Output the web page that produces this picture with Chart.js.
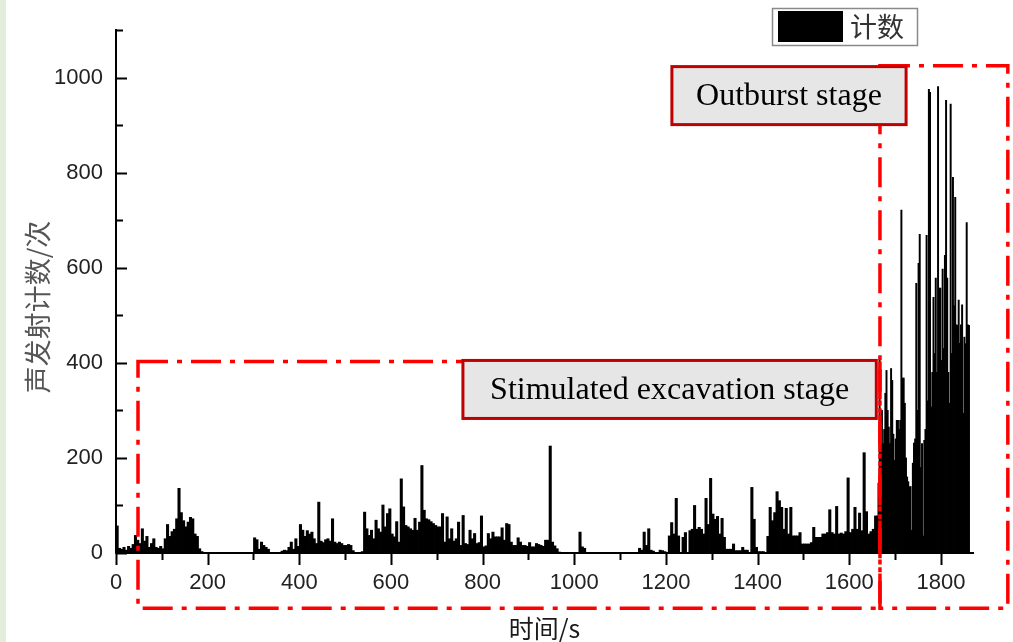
<!DOCTYPE html>
<html>
<head>
<meta charset="utf-8">
<title>声发射计数</title>
<script src="https://cdn.jsdelivr.net/npm/chart.js@4.4.1/dist/chart.umd.min.js"></script>
<style>
    html, body { margin: 0; padding: 0; background: #ffffff; }
    #chartBox { position: relative; width: 1013px; height: 642px; }
</style>
</head>
<body>
<div id="chartBox"><canvas id="canvasAE" width="1013" height="642"></canvas></div>
<script>
// ---------------------------------------------------------------- data
// acoustic emission counts, 5 s bins from 0 s to 1660 s (one row = 100 s)
var binWidthQuiet = 5;
var countsQuiet = [
    57, 10, 8, 12, 6, 14, 10, 18, 37, 27, 20, 51, 25, 35, 12, 20, 30, 12, 10, 14,
    9, 30, 60, 35, 45, 50, 72, 136, 85, 68, 55, 65, 75, 72, 40, 35, 9, 3, 0, 0,
    0, 0, 0, 0, 0, 0, 0, 0, 0, 0, 0, 0, 0, 0, 0, 0, 0, 0, 0, 0,
    32, 28, 8, 23, 16, 12, 8, 0, 0, 0, 0, 0, 4, 6, 5, 12, 23, 8, 30, 14,
    60, 48, 35, 47, 40, 44, 30, 20, 107, 25, 22, 28, 30, 25, 72, 23, 20, 23, 20, 16,
    16, 18, 16, 5, 0, 0, 0, 3, 86, 51, 37, 48, 30, 69, 51, 44, 101, 55, 83, 93,
    40, 34, 66, 23, 156, 97, 58, 55, 51, 48, 73, 48, 65, 184, 90, 72, 70, 66, 62, 58,
    55, 55, 83, 23, 76, 30, 51, 25, 30, 65, 16, 79, 20, 18, 48, 30, 41, 20, 22, 78,
    13, 15, 41, 30, 44, 34, 34, 34, 53, 27, 62, 60, 23, 16, 16, 32, 23, 16, 16, 14,
    22, 13, 13, 20, 18, 16, 14, 27, 27, 225, 23, 15, 9, 2, 0, 0, 0, 0, 0, 0,
    0, 0, 44, 13, 10, 0, 0, 0, 0, 0, 0, 0, 0, 0, 0, 0, 0, 0, 0, 0,
    0, 0, 0, 0, 0, 0, 0, 0, 10, 6, 44, 16, 51, 6, 4, 0, 0, 6, 5, 3,
    0, 36, 64, 40, 115, 36, 0, 33, 43, 0, 47, 50, 100, 50, 54, 50, 40, 115, 60, 157,
    82, 71, 77, 40, 73, 33, 8, 8, 8, 19, 5, 5, 5, 12, 6, 6, 0, 138, 71, 12,
    3, 3, 3, 0, 35, 96, 68, 85, 129, 110, 96, 50, 94, 40, 96, 36, 36, 36, 43, 19,
    19, 19, 19, 22, 54, 33, 33, 33, 40, 40, 43, 91, 43, 40, 98, 40, 42, 40, 45, 158,
    43, 50, 96, 50, 84, 47, 211, 87, 40, 45, 50, 78
];

// outburst stage, 2.5 s bins from 1660 s (one row = 25 s)
var outburstStart = 1660;
var binWidthOutburst = 2.5;
var countsOutburst = [
    78, 147, 410, 250, 300, 230, 260, 336, 384, 300,
    265, 230, 388, 363, 250, 195, 240, 279, 279, 260,
    279, 721, 368, 368, 315, 200, 160, 150, 139, 140,
    48, 189, 231, 240, 567, 300, 609, 670, 180, 230,
    36, 237, 260, 668, 320, 975, 969, 307, 380, 538,
    420, 578, 380, 981, 557, 557, 405, 597, 430, 626,
    952, 578, 380, 315, 944, 420, 790, 520, 748, 480,
    479, 532, 441, 480, 522, 294, 454, 440, 695, 480,
    479
];

var xTicks = [0, 200, 400, 600, 800, 1000, 1200, 1400, 1600, 1800];
var xMinorTicks = [100, 300, 500, 700, 900, 1100, 1300, 1500, 1700];
var yTicks = [0, 200, 400, 600, 800, 1000];
var yMinorTicks = [100, 300, 500, 700, 900, 1100];

var seriesLabel = "计数";
var xTitle = "时间/s";
var yTitle = "声发射计数/次";
var stageNames = ["Stimulated excavation stage", "Outburst stage"];

// global object
var go = {};

document.addEventListener("DOMContentLoaded", main);

//============================================================= main entry point
function main()
{
    // build the bar points from the bins (bar sits in the middle of its bin)
    var quietPoints = [];
    for (var i = 0; i < countsQuiet.length; ++ i)
        quietPoints.push({ x: i * binWidthQuiet + binWidthQuiet / 2, y: countsQuiet[i] });

    var outburstPoints = [];
    for (var j = 0; j < countsOutburst.length; ++ j)
        outburstPoints.push({ x: outburstStart + j * binWidthOutburst + binWidthOutburst / 2, y: countsOutburst[j] });

    var tickFont = { family: "'Liberation Sans', Arial, sans-serif", size: 22 };

    // plain numbers, no thousands separator
    var plainLabel = function (value) { return String(value); };

    var config =
    {
        type: "bar",
        data:
        {
            datasets:
            [
                {
                    label: seriesLabel,
                    data: quietPoints,
                    backgroundColor: "#000000",
                    borderWidth: 0,
                    grouped: false,
                    barThickness: 2.4
                },
                {
                    label: seriesLabel,
                    data: outburstPoints,
                    backgroundColor: "#000000",
                    borderWidth: 0,
                    grouped: false,
                    barThickness: 1.3
                }
            ]
        },
        options:
        {
            responsive: false,
            animation: false,
            layout: { padding: { top: 30, right: 40, left: 0, bottom: 0 } },
            plugins:
            {
                legend: { display: false },
                tooltip: { enabled: false }
            },
            scales:
            {
                x:
                {
                    type: "linear",
                    min: 0,
                    max: 1870,
                    offset: false,
                    grid: { display: false, drawTicks: false },
                    border: { display: true, color: "#000000", width: 2 },
                    ticks: { font: tickFont, color: "#222222", padding: 17, maxRotation: 0, callback: plainLabel },
                    afterBuildTicks: function (scale)
                    {
                        scale.ticks = xTicks.map(function (v) { return { value: v }; });
                    },
                    afterFit: function (scale) { scale.height = 89; }
                },
                y:
                {
                    min: 0,
                    max: 1100,
                    grid: { display: false, drawTicks: false },
                    border: { display: true, color: "#000000", width: 2 },
                    ticks: { font: tickFont, color: "#222222", padding: 13, callback: plainLabel },
                    afterBuildTicks: function (scale)
                    {
                        scale.ticks = yTicks.map(function (v) { return { value: v }; });
                    },
                    afterFit: function (scale) { scale.width = 116; }
                }
            }
        },
        plugins: [decorPlugin]
    };

    go.canvas = document.getElementById("canvasAE");
    go.chart = new Chart(go.canvas.getContext("2d"), config);
}

// background, tick marks, titles, stage frames and the legend
var decorPlugin =
{
    id: "decor",
    beforeDraw: function (chart)
    {
        var ctx = chart.ctx;
        ctx.save();
        ctx.fillStyle = "#ffffff";
        ctx.fillRect(0, 0, chart.width, chart.height);
        // pale green strip on the left edge of the figure
        ctx.fillStyle = "#e4edda";
        ctx.fillRect(0, 0, 6, chart.height);
        ctx.restore();
    },
    afterDatasetsDraw: function (chart)
    {
        drawTickMarks(chart);
        drawTitles(chart);
        drawStages(chart);
        drawLegend(chart);
    }
};

// Origin style ticks: x ticks point out, y ticks point in
function drawTickMarks(chart)
{
    var ctx = chart.ctx;
    var xs = chart.scales.x;
    var ys = chart.scales.y;
    var area = chart.chartArea;

    ctx.save();
    ctx.strokeStyle = "#000000";
    ctx.lineWidth = 2;
    ctx.beginPath();
    xTicks.forEach(function (v)
    {
        var px = Math.round(xs.getPixelForValue(v)) + 0.5;
        ctx.moveTo(px, area.bottom);
        ctx.lineTo(px, area.bottom + 12);
    });
    xMinorTicks.forEach(function (v)
    {
        var px = Math.round(xs.getPixelForValue(v)) + 0.5;
        ctx.moveTo(px, area.bottom);
        ctx.lineTo(px, area.bottom + 7);
    });
    yTicks.forEach(function (v)
    {
        var py = Math.round(ys.getPixelForValue(v)) + 0.5;
        ctx.moveTo(area.left, py);
        ctx.lineTo(area.left + 11, py);
    });
    yMinorTicks.forEach(function (v)
    {
        var py = Math.round(ys.getPixelForValue(v)) + 0.5;
        ctx.moveTo(area.left, py);
        ctx.lineTo(area.left + 7, py);
    });
    ctx.stroke();
    ctx.restore();
}

function drawTitles(chart)
{
    var ctx = chart.ctx;
    var area = chart.chartArea;
    ctx.save();
    ctx.textAlign = "center";
    ctx.textBaseline = "middle";

    // x title under the axis
    ctx.fillStyle = "#1a1a1a";
    ctx.font = "25px 'Noto Sans CJK SC', sans-serif";
    ctx.fillText(xTitle, (area.left + area.right) / 2, 628);

    // y title, rotated
    ctx.fillStyle = "#555555";
    ctx.font = "27px 'Noto Sans CJK SC', sans-serif";
    ctx.translate(38, 307);
    ctx.rotate(-Math.PI / 2);
    ctx.fillText(yTitle, 0, 0);
    ctx.restore();
}

// red dash-dot frames round the two stages with their grey labels
function drawStages(chart)
{
    var ctx = chart.ctx;
    var xs = chart.scales.x;
    var ys = chart.scales.y;

    // frame corners in axis units
    var frames =
    [
        { x0: 48, x1: 1667, y0: 403, y1: -116 },
        { x0: 1667, x1: 1946, y0: 1025, y1: -116 }
    ];
    // label boxes in axis units
    var boxes =
    [
        { x0: 757, x1: 1659, y0: 405, y1: 283 },
        { x0: 1213, x1: 1724, y0: 1023, y1: 901 }
    ];

    ctx.save();
    ctx.strokeStyle = "#ff0000";
    ctx.lineWidth = 3.5;
    ctx.setLineDash([30, 9, 5, 9]);
    frames.forEach(function (f)
    {
        var l = xs.getPixelForValue(f.x0);
        var r = xs.getPixelForValue(f.x1);
        var t = ys.getPixelForValue(f.y0);
        var b = ys.getPixelForValue(f.y1);
        ctx.strokeRect(l, t, r - l, b - t);
    });
    ctx.setLineDash([]);

    ctx.textAlign = "center";
    ctx.textBaseline = "middle";
    ctx.font = "32px 'Liberation Serif', 'Times New Roman', serif";
    boxes.forEach(function (b, k)
    {
        var l = xs.getPixelForValue(b.x0);
        var r = xs.getPixelForValue(b.x1);
        var t = ys.getPixelForValue(b.y0);
        var bt = ys.getPixelForValue(b.y1);
        ctx.fillStyle = "#e6e6e6";
        ctx.fillRect(l, t, r - l, bt - t);
        ctx.strokeStyle = "#c00000";
        ctx.lineWidth = 3;
        ctx.strokeRect(l, t, r - l, bt - t);
        ctx.fillStyle = "#000000";
        ctx.fillText(stageNames[k], (l + r) / 2, (t + bt) / 2 + 1);
    });
    ctx.restore();
}

function drawLegend(chart)
{
    var ctx = chart.ctx;
    ctx.save();
    ctx.strokeStyle = "#8a8a8a";
    ctx.lineWidth = 1.5;
    ctx.strokeRect(772.5, 8.5, 145, 37);
    ctx.fillStyle = "#000000";
    ctx.fillRect(778, 11, 65, 31);
    ctx.fillStyle = "#333333";
    ctx.font = "27px 'Noto Sans CJK SC', sans-serif";
    ctx.textAlign = "left";
    ctx.textBaseline = "middle";
    ctx.fillText(seriesLabel, 850, 27);
    ctx.restore();
}
</script>
</body>
</html>
